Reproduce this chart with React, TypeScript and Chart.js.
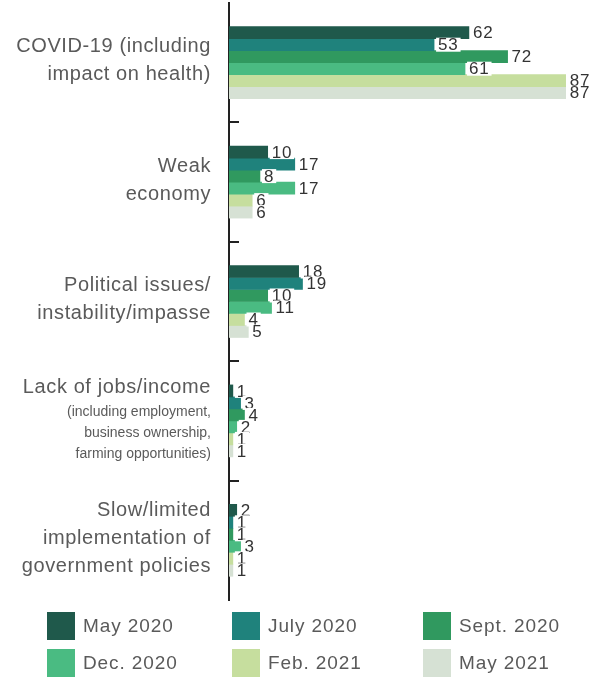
import { useEffect, useRef } from "react";
import { Chart, registerables } from "chart.js";

Chart.register(...registerables);

const categories = [
  ["COVID-19 (including", "impact on health)"],
  ["Weak", "economy"],
  ["Political issues/", "instability/impasse"],
  ["Lack of jobs/income"],
  ["Slow/limited", "implementation of", "government policies"],
];
const categoryNotes = [
  [],
  [],
  [],
  ["(including employment,", "business ownership,", "farming opportunities)"],
  [],
];

const seriesLabels = ["May 2020", "July 2020", "Sept. 2020", "Dec. 2020", "Feb. 2021", "May 2021"];
const may2020 = [62, 10, 18, 1, 2];
const july2020 = [53, 17, 19, 3, 1];
const sept2020 = [72, 8, 10, 4, 1];
const dec2020 = [61, 17, 11, 2, 3];
const feb2021 = [87, 6, 4, 1, 1];
const may2021 = [87, 6, 5, 1, 1];
const seriesValues = [may2020, july2020, sept2020, dec2020, feb2021, may2021];
const seriesColors = ["#1f594b", "#1f827c", "#30995f", "#4abb82", "#c6de9e", "#d6e1d4"];

const LABEL_FONT = '"Liberation Sans", Arial, sans-serif';
const LABEL_COLOR = "#5a5a5a";

const yLabelsPlugin = {
  id: "yLabels",
  afterDraw(chart: any) {
    const ctx = chart.ctx;
    const ys = chart.scales.y;
    const right = chart.chartArea.left - 18;
    ctx.save();
    ctx.fillStyle = LABEL_COLOR;
    ctx.textAlign = "right";
    ctx.textBaseline = "middle";
    categories.forEach((lines, i) => {
      const notes = categoryNotes[i];
      const mainH = 28;
      const noteH = 21;
      const total = lines.length * mainH + notes.length * noteH;
      const cy = ys.getPixelForValue(i) - 2;
      let y = cy - total / 2;
      ctx.font = `20px ${LABEL_FONT}`;
      (ctx as any).letterSpacing = "0.6px";
      lines.forEach((t) => {
        ctx.fillText(t, right, y + mainH / 2);
        y += mainH;
      });
      ctx.font = `14px ${LABEL_FONT}`;
      (ctx as any).letterSpacing = "0px";
      notes.forEach((t) => {
        ctx.fillText(t, right, y + noteH / 2);
        y += noteH;
      });
    });
    (ctx as any).letterSpacing = "0px";
    ctx.restore();
  },
};

const boundaryTicksPlugin = {
  id: "boundaryTicks",
  afterDraw(chart: any) {
    const ctx = chart.ctx;
    const ys = chart.scales.y;
    const left = chart.chartArea.left;
    ctx.save();
    ctx.strokeStyle = "#222";
    ctx.lineWidth = 2;
    for (let i = 1; i < categories.length; i++) {
      const y = Math.round((ys.getPixelForValue(i - 1) + ys.getPixelForValue(i)) / 2);
      ctx.beginPath();
      ctx.moveTo(left - 1, y);
      ctx.lineTo(left + 10, y);
      ctx.stroke();
    }
    ctx.restore();
  },
};

const valueLabelsPlugin = {
  id: "valueLabels",
  afterDatasetsDraw(chart: any) {
    const ctx = chart.ctx;
    ctx.save();
    ctx.font = `17px ${LABEL_FONT}`;
    (ctx as any).letterSpacing = "0.8px";
    ctx.textAlign = "left";
    ctx.textBaseline = "middle";
    chart.data.datasets.forEach((ds: any, di: number) => {
      const meta = chart.getDatasetMeta(di);
      meta.data.forEach((bar: any, i: number) => {
        const txt = String(ds.data[i]);
        const w = ctx.measureText(txt).width;
        ctx.fillStyle = "#ffffff";
        ctx.fillRect(bar.x + 2, bar.y - 7, w + 4, 14);
        ctx.fillStyle = "#333333";
        ctx.fillText(txt, bar.x + 4, bar.y + 1);
      });
    });
    (ctx as any).letterSpacing = "0px";
    ctx.restore();
  },
};

const gridLegendPlugin = {
  id: "gridLegend",
  afterDraw(chart: any) {
    const ctx = chart.ctx;
    const colX = [47, 232, 423];
    const rowY = [612, 649];
    const box = 28;
    ctx.save();
    ctx.font = `19px ${LABEL_FONT}`;
    (ctx as any).letterSpacing = "0.9px";
    ctx.textAlign = "left";
    ctx.textBaseline = "middle";
    chart.data.datasets.forEach((ds: any, i: number) => {
      const x = colX[i % 3];
      const y = rowY[Math.floor(i / 3)];
      ctx.fillStyle = ds.backgroundColor;
      ctx.fillRect(x, y, box, box);
      ctx.fillStyle = LABEL_COLOR;
      ctx.fillText(ds.label, x + box + 8, y + box / 2 + 1);
    });
    (ctx as any).letterSpacing = "0px";
    ctx.restore();
  },
};

export default function App() {
  const canvasRef = useRef<HTMLCanvasElement | null>(null);

  useEffect(() => {
    if (!canvasRef.current) return;
    const chart = new Chart(canvasRef.current, {
      type: "bar",
      data: {
        labels: categories.map((c) => c.join(" ")),
        datasets: seriesLabels.map((label, i) => ({
          label,
          data: seriesValues[i],
          backgroundColor: seriesColors[i],
          borderWidth: 0,
          barThickness: 12,
        })),
      },
      options: {
        indexAxis: "y",
        responsive: false,
        animation: false,
        layout: { padding: { left: 0, top: 3, bottom: 77, right: 15 } },
        plugins: {
          legend: { display: false },
          tooltip: { enabled: false },
        },
        scales: {
          x: { display: false, min: 0, max: 92 },
          y: {
            display: true,
            ticks: { display: false },
            grid: { display: false, drawTicks: false },
            border: { display: true, color: "#222", width: 2 },
            afterFit: (scale: any) => {
              scale.width = 229;
            },
          },
        },
      },
      plugins: [valueLabelsPlugin, boundaryTicksPlugin, yLabelsPlugin, gridLegendPlugin],
    });
    return () => chart.destroy();
  }, []);

  return (
    <div style={{ position: "absolute", left: 0, top: 0, width: 600, height: 677, background: "#fff" }}>
      <canvas ref={canvasRef} width={600} height={677} />
    </div>
  );
}
